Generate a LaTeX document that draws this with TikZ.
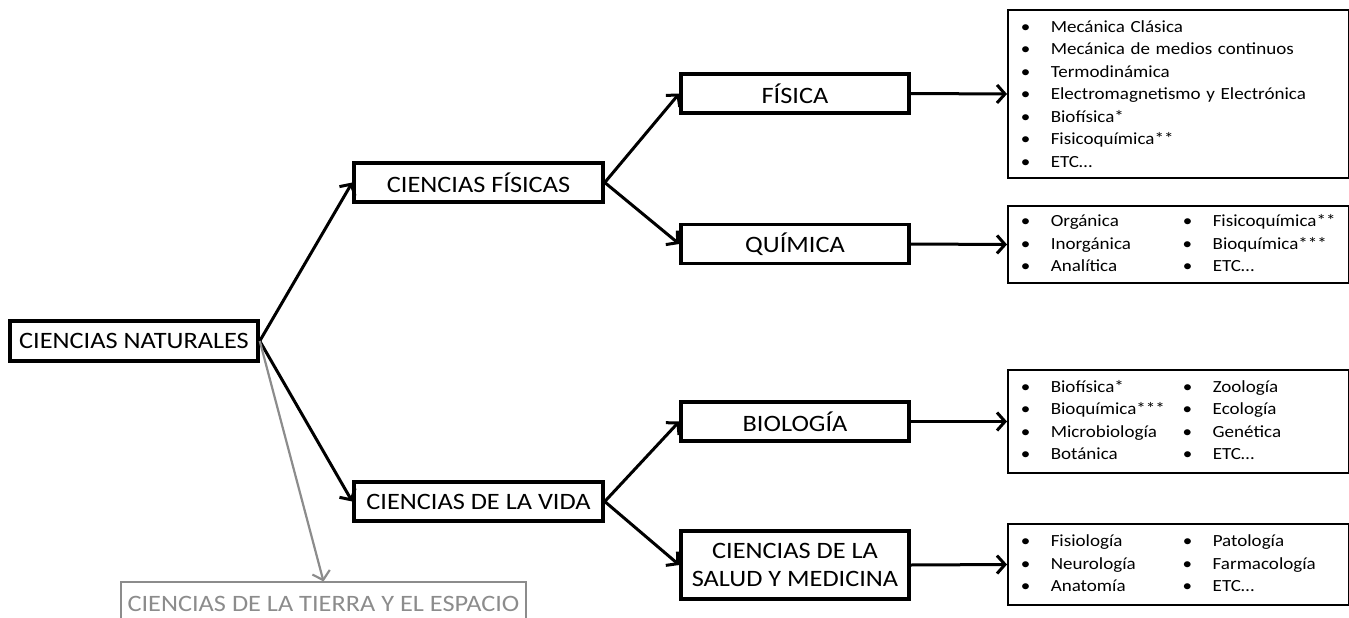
\documentclass[tikz,border=0pt]{standalone}
\usepackage{fontspec}
\setmainfont{Carlito}[FakeStretch=1.12]
\usetikzlibrary{arrows.meta}
\newcommand{\bul}[1]{\makebox[30pt][l]{\textbullet}#1}

\begin{document}
\begin{tikzpicture}[x=1pt,y=-1pt,
  caja/.style={draw,line width=3.5pt,inner sep=0pt,align=center,font=\fontsize{23.5}{28}\selectfont},
  lista/.style={draw,line width=1.5pt,anchor=west,inner xsep=13pt,inner ysep=0pt,text width=315pt,align=left,font=\fontsize{17}{22.5}\selectfont},
  flecha/.style={line width=3pt,-{Straight Barb[length=8pt,width=18pt]}},
  gris/.style={draw=gray!90,text=gray!90}]
  \useasboundingbox (0,0) rectangle (1349,618);
  \coordinate(N) at (134,341);
  \coordinate(CF) at (478.5,182.5);
  \coordinate(CV) at (478.5,501.5);
  \coordinate(F) at (795,93.5);
  \coordinate(Q) at (795,244);
  \coordinate(B) at (795,421.5);
  \coordinate(S) at (795,565);
  \coordinate(T) at (323.5,604);

  \node[caja,minimum width=248pt,minimum height=40pt](nat) at (N) {CIENCIAS NATURALES};
  \node[caja,minimum width=249pt,minimum height=39pt](cf) at (CF) {CIENCIAS FÍSICAS};
  \node[caja,minimum width=249pt,minimum height=39pt](cv) at (CV) {CIENCIAS DE LA VIDA};
  \node[caja,minimum width=228pt,minimum height=39pt](fis) at (F) {FÍSICA};
  \node[caja,minimum width=228pt,minimum height=39pt](qui) at (Q) {QUÍMICA};
  \node[caja,minimum width=228pt,minimum height=39pt](bio) at (B) {BIOLOGÍA};
  \node[caja,minimum width=228pt,minimum height=68pt](sal) at (S) {CIENCIAS DE LA\\SALUD Y MEDICINA};
  \node[caja,gris,line width=1.2pt,minimum width=405pt,minimum height=44pt](tie) at (T) {CIENCIAS DE LA TIERRA Y EL ESPACIO};

  \node[lista,minimum height=168pt](lfis) at (1007,94) {\bul{Mecánica Clásica}\\\bul{Mecánica de medios continuos}\\\bul{Termodinámica}\\\bul{Electromagnetismo y Electrónica}\\\bul{Biofísica*}\\\bul{Fisicoquímica**}\\\bul{ETC…}};
  \node[lista,minimum height=77pt](lqui) at (1007,244.5) {\begin{tabular}{@{}p{162pt}@{}l@{}}
    \bul{Orgánica} & \bul{Fisicoquímica**}\\
    \bul{Inorgánica} & \bul{Bioquímica***}\\
    \bul{Analítica} & \bul{ETC…}
  \end{tabular}};
  \node[lista,minimum height=103pt](lbio) at (1007,421.5) {\begin{tabular}{@{}p{162pt}@{}l@{}}
    \bul{Biofísica*} & \bul{Zoología}\\
    \bul{Bioquímica***} & \bul{Ecología}\\
    \bul{Microbiología} & \bul{Genética}\\
    \bul{Botánica} & \bul{ETC…}
  \end{tabular}};
  \node[lista,minimum height=81pt](lsal) at (1007,564.5) {\begin{tabular}{@{}p{162pt}@{}l@{}}
    \bul{Fisiología} & \bul{Patología}\\
    \bul{Neurología} & \bul{Farmacología}\\
    \bul{Anatomía} & \bul{ETC…}
  \end{tabular}};

  \draw[flecha](nat.east)--(cf.west);
  \draw[flecha](nat.east)--(cv.west);
  \draw[flecha,gray!90,line width=2.2pt](nat.east)--(tie.north);
  \draw[flecha](cf.east)--(fis.west);
  \draw[flecha](cf.east)--(qui.west);
  \draw[flecha](cv.east)--(bio.west);
  \draw[flecha](cv.east)--(sal.west);
  \draw[flecha](fis.east)--(lfis.west);
  \draw[flecha](qui.east)--(lqui.west);
  \draw[flecha](bio.east)--(lbio.west);
  \draw[flecha](sal.east)--(lsal.west);
\end{tikzpicture}
\end{document}
